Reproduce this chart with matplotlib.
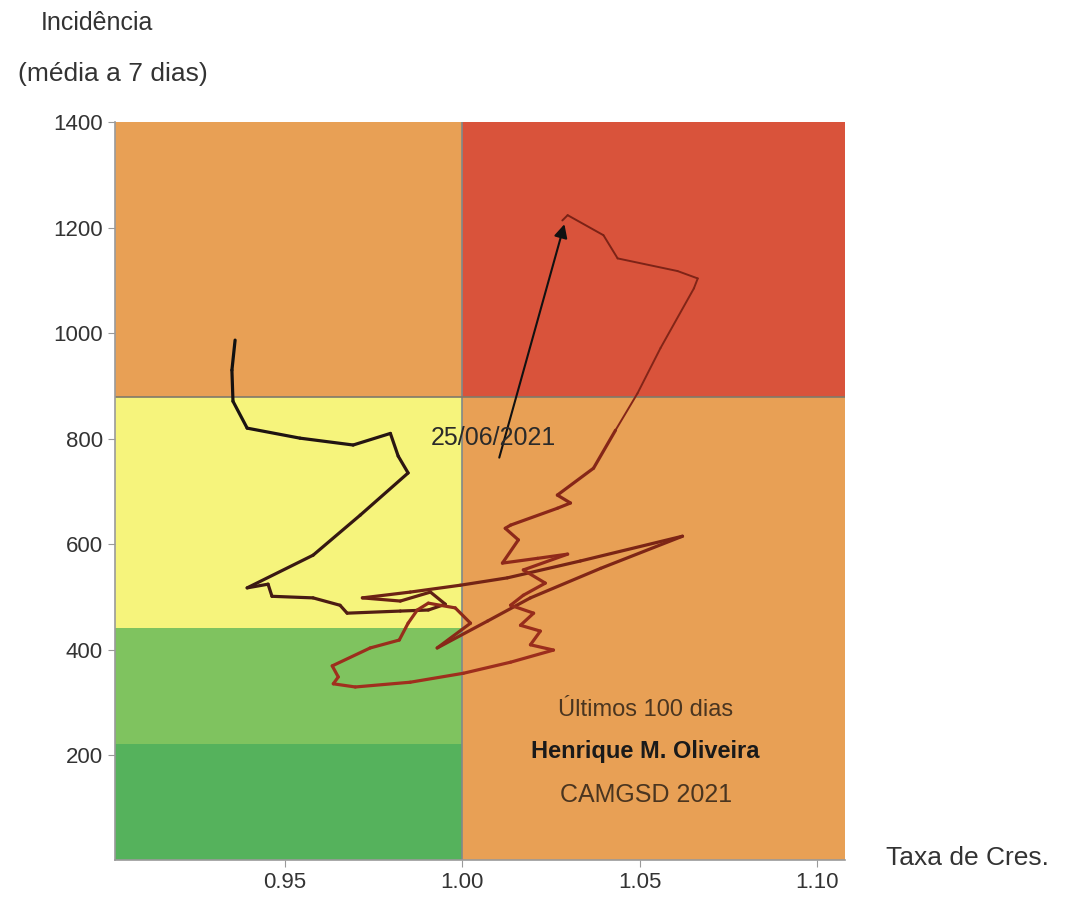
"""Diagrama de risco: incidência (média a 7 dias) vs taxa de crescimento, últimos 100 dias."""
import numpy as np
import matplotlib; matplotlib.use('Agg')
import matplotlib.pyplot as plt
from matplotlib.collections import LineCollection
from matplotlib.colors import LinearSegmentedColormap
from matplotlib.patches import Rectangle

plt.rcParams['font.family'] = ['Liberation Sans', 'DejaVu Sans']

# -------- dados --------
taxa = [0.9359, 0.9350, 0.9353, 0.9393, 0.9542, 0.9692, 0.9797, 0.9819, 0.9847,
        0.9712, 0.9579, 0.9393, 0.9452, 0.9463, 0.9579, 0.9655, 0.9675, 0.9825,
        0.9904, 0.9952, 0.9910, 0.9825, 0.9718, 0.9853, 0.9994, 1.0127, 1.0333,
        1.0621, 1.0390, 1.0192, 1.0071, 0.9929, 1.0023, 0.9980, 0.9904, 0.9873,
        0.9847, 0.9822, 0.9740, 0.9633, 0.9650, 0.9636, 0.9698, 0.9853, 1.0003,
        1.0136, 1.0257, 1.0192, 1.0220, 1.0164, 1.0201, 1.0136, 1.0172, 1.0234,
        1.0172, 1.0297, 1.0212, 1.0113, 1.0158, 1.0121, 1.0136, 1.0268, 1.0305,
        1.0268, 1.0370, 1.0432, 1.0494, 1.0559, 1.0653, 1.0664, 1.0607, 1.0438,
        1.0398, 1.0297, 1.0282]
incid = [987, 930, 871, 820, 801, 788, 810, 767, 735,
         655, 579, 517, 524, 501, 498, 484, 469, 473,
         475, 486, 509, 492, 498, 509, 522, 536, 568,
         615, 554, 498, 454, 403, 450, 479, 488, 475,
         450, 418, 403, 369, 348, 335, 329, 338, 355,
         376, 399, 409, 435, 446, 469, 484, 503, 526,
         551, 581, 573, 564, 608, 630, 636, 668, 678,
         693, 744, 816, 886, 972, 1085, 1104, 1118, 1142,
         1186, 1224, 1214]

# zonas de risco: (x0, x1), (y0, y1), cor
zonas_x = [(0.90, 1.00), (0.90, 1.00), (0.90, 1.00), (0.90, 1.00), (1.00, 1.11), (1.00, 1.11)]
zonas_y = [(0, 220), (220, 440), (440, 880), (880, 1400), (0, 880), (880, 1400)]
zonas_cor = ['#55b25c', '#7fc35f', '#f6f47c', '#e8a055', '#e8a055', '#d9533b']

data_label = '25/06/2021'
data_ponto = (1.0290, 1212)
data_texto = (1.0088, 801)
creditos = ['Últimos 100 dias', 'Henrique M. Oliveira', 'CAMGSD 2021']

fig = plt.figure(figsize=(10.74, 9.0), dpi=100)
ax = fig.add_axes([0.107, 0.044, 0.680, 0.820])

for (x0, x1), (y0, y1), c in zip(zonas_x, zonas_y, zonas_cor):
    ax.add_patch(Rectangle((x0, y0), x1 - x0, y1 - y0, facecolor=c, edgecolor='none', zorder=0))
ax.axvline(1.0, color='#7f8a8a', lw=1.2, zorder=1)
ax.plot([0.90, 1.11], [880, 880], color='#7f7a6a', lw=1.2, zorder=1)

# trajetória com cor a variar de preto para vermelho escuro
pts = np.column_stack([taxa, incid])
segs = np.stack([pts[:-1], pts[1:]], axis=1)
cmap = LinearSegmentedColormap.from_list('traj', [(0, '#111111'), (0.35, '#7a2515'),
                                                  (0.55, '#a2301e'), (1, '#7a2216')])
larg = np.where(np.arange(len(segs)) < len(segs) - 9, 2.3, 1.4)
lc = LineCollection(segs, cmap=cmap, linewidths=larg, capstyle='round', joinstyle='round', zorder=3)
lc.set_array(np.linspace(0, 1, len(segs)))
ax.add_collection(lc)

ax.annotate('', xy=data_ponto, xytext=(1.0102, 759),
            arrowprops=dict(arrowstyle='-|>', color='#111111', lw=1.5, mutation_scale=20), zorder=4)
ax.text(*data_texto, data_label, ha='center', va='center', fontsize=18, color='#2a2a2a', zorder=5)

ax.text(1.0517, 285, creditos[0], ha='center', va='center', fontsize=17, color='#4a3520')
ax.text(1.0517, 206, creditos[1], ha='center', va='center', fontsize=17, color='#1a1a1a',
        fontweight='bold')
ax.text(1.0517, 124, creditos[2], ha='center', va='center', fontsize=18, color='#4a3520')

ax.set_xlim(0.902, 1.108)
ax.set_ylim(0, 1400)
ax.set_xticks([0.95, 1.00, 1.05, 1.10])
ax.set_xticklabels(['0.95', '1.00', '1.05', '1.10'])
ax.set_yticks([200, 400, 600, 800, 1000, 1200, 1400])
ax.tick_params(labelsize=16, colors='#9a9a9a', labelcolor='#333333', length=5)
for s in ['top', 'right']:
    ax.spines[s].set_visible(False)
for s in ['left', 'bottom']:
    ax.spines[s].set_color('#9a9a9a')
    ax.spines[s].set_linewidth(1.2)

fig.text(0.090, 0.974, 'Incidência', ha='center', va='center', fontsize=18, color='#333333')
fig.text(0.105, 0.918, '(média a 7 dias)', ha='center', va='center', fontsize=19, color='#333333')
fig.text(0.825, 0.047, 'Taxa de Cres.', ha='left', va='center', fontsize=19, color='#333333')

fig.savefig('out.png', dpi=100)
